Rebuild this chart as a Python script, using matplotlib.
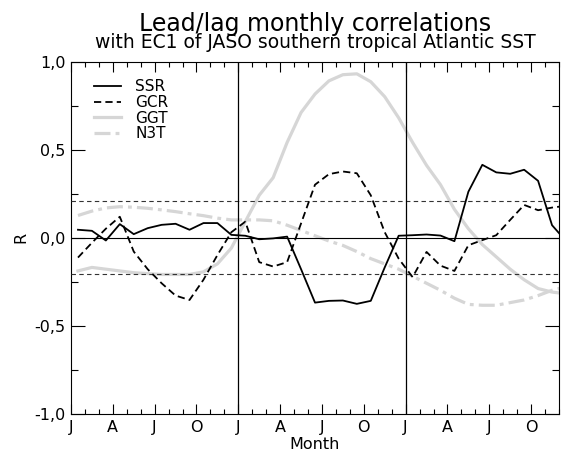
import numpy as np
import matplotlib
matplotlib.use('Agg')
import matplotlib.pyplot as plt
from matplotlib.ticker import MultipleLocator, FixedLocator

# month index (mid-month), 3 years starting in January
months = np.arange(36) + 0.5
month_ticks = list(range(0, 36, 3))
month_labels = ['J', 'A', 'J', 'O'] * 3
r_ticks = [-1.0, -0.5, 0.0, 0.5, 1.0]
r_labels = ['-1,0', '-0,5', '0,0', '0,5', '1,0']
signif = 0.21

ssr = [0.044, 0.038, -0.017, 0.076, 0.019, 0.053, 0.072, 0.078, 0.044, 0.082,
       0.082, 0.015, 0.01, -0.01, -0.005, 0.005, -0.18, -0.37, -0.36, -0.358,
       -0.377, -0.36, -0.17, 0.01, 0.013, 0.017, 0.011, -0.021, 0.26, 0.413,
       0.37, 0.362, 0.385, 0.322, 0.07, -0.02]
gcr = [-0.114, -0.03, 0.05, 0.118, -0.08, -0.18, -0.26, -0.33, -0.355, -0.24,
       -0.10, 0.03, 0.09, -0.14, -0.165, -0.14, 0.08, 0.30, 0.36, 0.375,
       0.365, 0.24, 0.03, -0.12, -0.225, -0.082, -0.16, -0.19, -0.044, -0.015,
       0.013, 0.10, 0.185, 0.155, 0.17, 0.18]
ggt = [-0.19, -0.17, -0.18, -0.19, -0.20, -0.205, -0.21, -0.21, -0.21, -0.195,
       -0.15, -0.06, 0.09, 0.24, 0.34, 0.54, 0.71, 0.815, 0.89, 0.925,
       0.93, 0.885, 0.80, 0.68, 0.54, 0.41, 0.30, 0.16, 0.05, -0.04,
       -0.11, -0.18, -0.24, -0.29, -0.31, -0.32]
n3t = [0.125, 0.15, 0.168, 0.175, 0.172, 0.166, 0.157, 0.147, 0.135, 0.124,
       0.11, 0.10, 0.10, 0.10, 0.095, 0.07, 0.04, 0.01, -0.02, -0.045,
       -0.08, -0.12, -0.15, -0.18, -0.22, -0.26, -0.30, -0.345, -0.38, -0.385,
       -0.385, -0.37, -0.355, -0.33, -0.30, -0.28]

fig = plt.figure(figsize=(5.64, 4.55), dpi=100)
ax = fig.add_axes([71 / 564, 1 - 413.5 / 455, 488 / 564, 352 / 455])

light = '#d6d6d6'
h_ggt, = ax.plot(months, ggt, color=light, lw=2.3, label='GGT', zorder=2)
h_n3t, = ax.plot(months, n3t, color=light, lw=2.3, label='N3T', zorder=2,
                 linestyle=(0, (5.0, 1.6, 1.2, 1.6)), dash_capstyle='butt')
h_ssr, = ax.plot(months, ssr, color='black', lw=1.3, label='SSR', zorder=4)
h_gcr, = ax.plot(months, gcr, color='black', lw=1.3, label='GCR', zorder=4,
                 linestyle=(0, (4.0, 2.3)))

# reference lines
ax.axhline(0, color='black', lw=0.8, zorder=3)
ax.axhline(signif, color='#333333', lw=0.8, linestyle=(0, (4, 3)), zorder=3)
ax.axhline(-signif, color='#333333', lw=0.8, linestyle=(0, (4, 3)), zorder=3)
for m in (12, 24):
    ax.axvline(m, color='black', lw=0.9, zorder=3)

ax.set_xlim(0, 35)
ax.set_ylim(-1, 1)
ax.xaxis.set_major_locator(FixedLocator(month_ticks))
ax.set_xticklabels(month_labels)
ax.xaxis.set_minor_locator(MultipleLocator(1))
ax.set_yticks(r_ticks, labels=r_labels)
ax.yaxis.set_minor_locator(MultipleLocator(0.25))

ax.tick_params(which='both', direction='in', top=True, right=True,
               width=0.8, color='black', labelsize=11.5)
ax.tick_params(axis='x', which='major', length=7, pad=4.5)
ax.tick_params(axis='x', which='minor', length=3.6)
ax.tick_params(axis='y', which='major', length=10, pad=4)
ax.tick_params(axis='y', which='minor', length=5)
for s in ax.spines.values():
    s.set_linewidth(0.8)

ax.set_xlabel('Month', fontsize=11.5, labelpad=1.5)
ax.set_ylabel('R', fontsize=11.5, labelpad=4)

ax.legend(handles=[h_ssr, h_gcr, h_ggt, h_n3t], loc='upper left',
          bbox_to_anchor=(0.047, 0.95), frameon=False, fontsize=11,
          borderpad=0, borderaxespad=0, handlelength=1.8, handletextpad=0.9,
          labelspacing=0.05)

fig.text(315 / 564, 1 - 30.5 / 455, 'Lead/lag monthly correlations',
         ha='center', va='baseline', fontsize=17)
fig.text(315 / 564, 1 - 48.5 / 455,
         'with EC1 of JASO southern tropical Atlantic SST',
         ha='center', va='baseline', fontsize=13.5)

fig.savefig('out.png', dpi=100)
